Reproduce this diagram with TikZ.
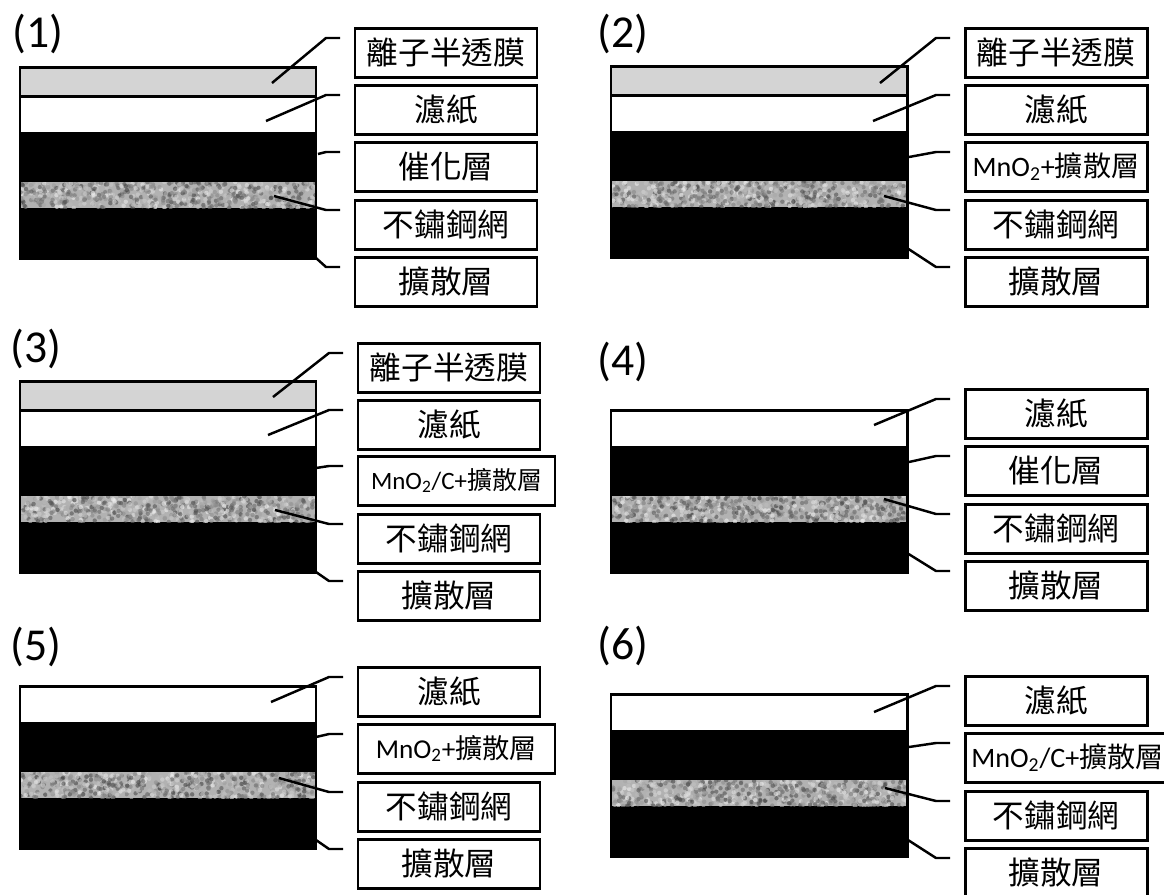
\documentclass[tikz,border=0pt]{standalone}
\usepackage{fontspec}
\setmainfont{Carlito}
\newfontfamily\cjk{Noto Sans CJK TC}
\usetikzlibrary{positioning}

\tikzset{
    layer/.style={
        minimum width=296*0.02cm,
        minimum height=#1*0.02cm,
        inner sep=0pt,
        outer sep=0pt
    },
    frame/.style={draw, line width=1.7pt},
    labelbox/.style={
        draw,
        line width=1.7pt,
        minimum width=182*0.02cm,
        minimum height=49*0.02cm,
        inner sep=0pt,
        outer sep=0pt,
        align=center,
        font=\fontsize{18}{21}\selectfont\cjk
    },
    widebox/.style={minimum width=197*0.02cm},
    chembox/.style={font=\fontsize{#1}{18}\selectfont},
    leader/.style={line width=1.4pt},
    tag/.style={anchor=west, inner sep=0pt, font=\fontsize{26}{30}\selectfont}
}

% name, left x, top y of filter paper
\newcommand{\layerstack}[3]{
    \node[layer=36, anchor=north west, fill=white] (#1paper) at (#2,#3) {};
    \node[layer=50, fill=black, below=0pt of #1paper] (#1cat) {};
    \node[layer=26, fill=black!30, below=0pt of #1cat] (#1mesh) {};
    \node[layer=50, fill=black, below=0pt of #1mesh] (#1base) {};
    \begin{scope}
        \clip (#1mesh.south west) rectangle (#1mesh.north east);
        \foreach \i in {1,...,650}{
            \pgfmathsetmacro{\dotx}{rnd*296}
            \pgfmathsetmacro{\doty}{-26*rnd}
            \pgfmathtruncatemacro{\dotg}{random(5,75)}
            \fill[black!\dotg, opacity=0.6] ([shift={(\dotx,\doty)}]#1mesh.south west) circle[radius=2.2];
        }
    \end{scope}
}

% name, box options, west x, top y, text, leader start x, leader start y
\newcommand{\callout}[7]{
    \node[labelbox, anchor=north west, #2] (#1) at (#3,#4) {#5};
    \coordinate (#1from) at (#6,#7);
    \coordinate (#1bend) at ([shift={(-29,10)}]#1.north west);
    \coordinate (#1end) at ([shift={(-15,10)}]#1.north west);
    \draw[leader] (#1from) -- (#1bend) -- (#1end);
}

\begin{document}
\begin{tikzpicture}[x=0.02cm, y=-0.02cm]
\useasboundingbox (0,0) rectangle (1164,894);
\pgfmathsetseed{7}

% Panel 1
\node[tag] (tag1) at (12,34) {(1)};
\layerstack{a}{20}{96}
\node[layer=29, fill=black!17, above=0pt of apaper] (atop) {};
\draw[frame] (atop.north west) rectangle (abase.south east);
\draw[frame] (atop.south west) -- (atop.south east);
\callout{a1}{}{355}{28}{離子半透膜}{272}{83}
\callout{a2}{}{355}{85}{濾紙}{266}{121}
\callout{a3}{}{355}{142}{催化層}{318}{154}
\callout{a4}{}{355}{200}{不鏽鋼網}{274}{196}
\callout{a5}{}{355}{257}{擴散層}{316}{258}

% Panel 2
\node[tag] (tag2) at (597,34) {(2)};
\layerstack{b}{611}{95}
\node[layer=29, fill=black!17, above=0pt of bpaper] (btop) {};
\draw[frame] (btop.north west) rectangle (bbase.south east);
\draw[frame] (btop.south west) -- (btop.south east);
\callout{b1}{}{965}{28}{離子半透膜}{880}{83}
\callout{b2}{}{965}{85}{濾紙}{873}{121}
\callout{b3}{chembox=16}{965}{142}{MnO\textsubscript{2}+{\cjk 擴散層}}{909}{157}
\callout{b4}{}{965}{200}{不鏽鋼網}{884}{196}
\callout{b5}{}{965}{257}{擴散層}{907}{248}

% Panel 3
\node[tag] (tag3) at (10,349) {(3)};
\layerstack{c}{20}{410}
\node[layer=29, fill=black!17, above=0pt of cpaper] (ctop) {};
\draw[frame] (ctop.north west) rectangle (cbase.south east);
\draw[frame] (ctop.south west) -- (ctop.south east);
\callout{c1}{}{358}{343}{離子半透膜}{273}{397}
\callout{c2}{}{358}{400}{濾紙}{268}{435}
\callout{c3}{widebox, chembox=14.2}{358}{456}{MnO\textsubscript{2}/C+{\cjk 擴散層}}{316}{468}
\callout{c4}{}{358}{514}{不鏽鋼網}{275}{510}
\callout{c5}{}{358}{571}{擴散層}{316}{572}

% Panel 4
\node[tag] (tag4) at (597,362) {(4)};
\layerstack{d}{611}{410}
\draw[frame] (dpaper.north west) rectangle (dbase.south east);
\callout{d1}{}{965}{389}{濾紙}{874}{425}
\callout{d2}{}{965}{446}{催化層}{909}{462}
\callout{d3}{}{965}{504}{不鏽鋼網}{884}{499}
\callout{d4}{}{965}{561}{擴散層}{907}{553}

% Panel 5
\node[tag] (tag5) at (10,647) {(5)};
\layerstack{e}{20}{686}
\draw[frame] (epaper.north west) rectangle (ebase.south east);
\callout{e1}{}{358}{667}{濾紙}{271}{702}
\callout{e2}{widebox, chembox=15.5}{358}{724}{MnO\textsubscript{2}+{\cjk 擴散層}}{316}{737}
\callout{e3}{}{358}{782}{不鏽鋼網}{279}{778}
\callout{e4}{}{358}{839}{擴散層}{316}{840}

% Panel 6
\node[tag] (tag6) at (597,646) {(6)};
\layerstack{f}{611}{694}
\draw[frame] (fpaper.north west) rectangle (fbase.south east);
\callout{f1}{}{965}{676}{濾紙}{874}{712}
\callout{f2}{minimum width=205*0.02cm, chembox=16}{965}{733}{MnO\textsubscript{2}/C+{\cjk 擴散層}}{909}{747}
\callout{f3}{}{965}{791}{不鏽鋼網}{885}{788}
\callout{f4}{}{965}{848}{擴散層}{908}{840}

\end{tikzpicture}
\end{document}
